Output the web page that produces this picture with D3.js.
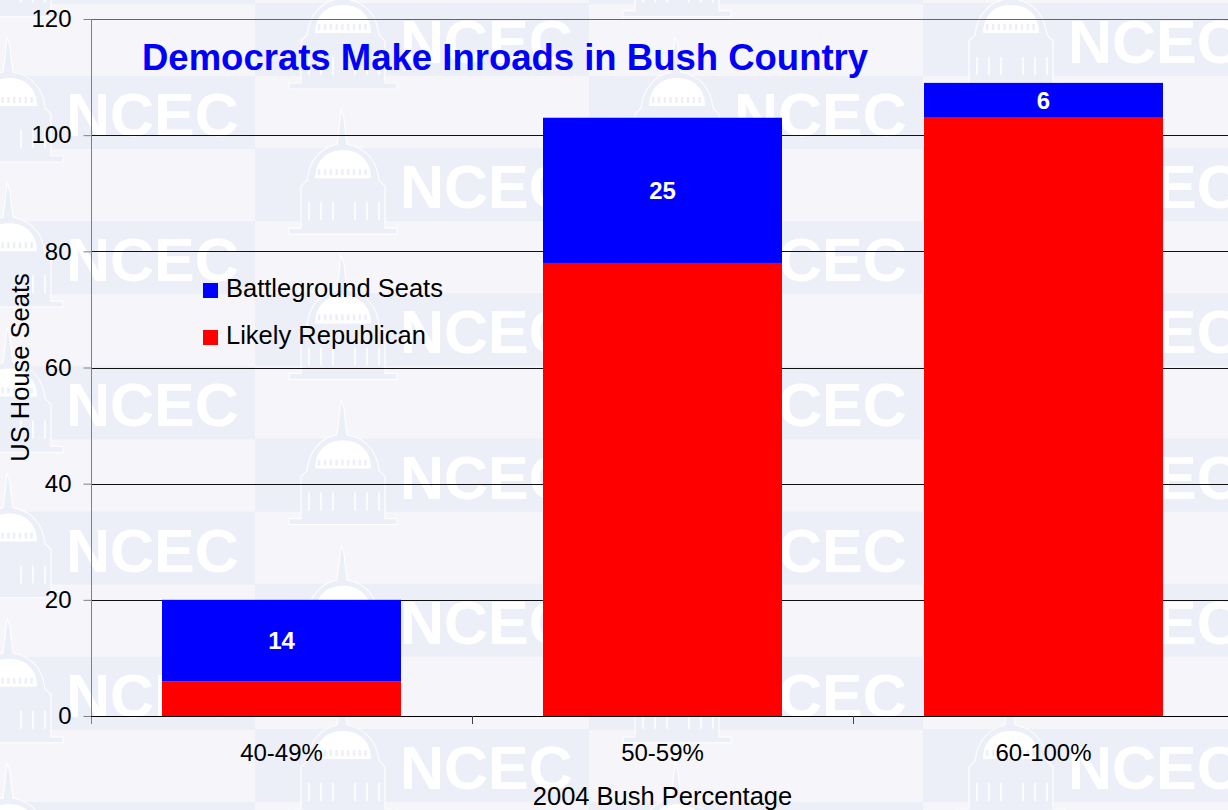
<!DOCTYPE html>
<html>
<head>
<meta charset="utf-8">
<script src="https://cdn.jsdelivr.net/npm/d3@7"></script>
<style>
  html, body { margin: 0; padding: 0; background: #f5f5fa; }
  svg { display: block; font-family: "Liberation Sans", Arial, sans-serif; }
</style>
</head>
<body>
<svg id="chart" width="1228" height="810"></svg>
<script>
// Data
const categories = ["40-49%", "50-59%", "60-100%"];
const likelyRepublican = [6, 78, 103];
const battleground = [14, 25, 6];
const yTicks = [0, 20, 40, 60, 80, 100, 120];
const seriesNames = ["Battleground Seats", "Likely Republican"];
const seriesColors = ["#0000ff", "#ff0000"];

const W = 1228, H = 810;
const margin = { left: 91, top: 19, right: 1234, bottom: 716 };

const svg = d3.select("#chart");

// Background and tiled NCEC watermark (checkerboard of tinted cells)
svg.append("rect").attr("width", W).attr("height", H).attr("fill", "#f5f5fa");

const bandFill = "#eceff7";
const cellW = 334, rowPeriod = 145.2, bandH = 73;
const cells = [];
d3.range(4).forEach(col => {
  const x0 = -79 + col * cellW;
  const top0 = (col % 2 === 0) ? 76 : 3;
  d3.range(-1, 7).forEach(k => cells.push({ x: x0, y: top0 + k * rowPeriod }));
});

const wm = svg.append("g").attr("class", "watermark");
wm.selectAll("rect.band").data(cells).join("rect")
  .attr("class", "band")
  .attr("x", d => d.x).attr("y", d => d.y)
  .attr("width", cellW).attr("height", bandH)
  .attr("fill", bandFill);

// faint capitol dome icon, drawn relative to each cell
function capitol(g) {
  const stroke = "#ffffff";
  // outer silhouette: spire, dome shoulders, body and base
  g.append("path")
    .attr("d", "M52,-39 L55,-30 L56,-20 L58,-4 C78,0 88,14 90,32 L96,38 L96,80 L108,80 L108,86 L0,86 L0,80 L12,80 L12,38 L18,32 C20,14 30,0 48,-4 L50,-20 L51,-30 Z")
    .attr("fill", bandFill).attr("stroke", stroke).attr("stroke-width", 1.2).attr("stroke-opacity", 0.9);
  // white inner dome
  g.append("path")
    .attr("d", "M26,30 C26,12 38,2 54,2 C70,2 82,12 82,30 Z")
    .attr("fill", stroke);
  // window row in the dome
  d3.range(9).forEach(i => {
    g.append("rect").attr("x", 29 + i * 5.8).attr("y", 21).attr("width", 2.4).attr("height", 6)
      .attr("fill", bandFill);
  });
  // columns of the body
  [20, 32, 44, 66, 78, 90].forEach(cx => {
    g.append("line").attr("x1", cx).attr("x2", cx).attr("y1", 54).attr("y2", 72)
      .attr("stroke", stroke).attr("stroke-width", 1.6);
  });
}

const tiles = wm.selectAll("g.tile").data(cells).join("g")
  .attr("class", "tile")
  .attr("transform", d => `translate(${d.x + 34},${d.y})`);
tiles.each(function () { capitol(d3.select(this)); });
tiles.append("text")
  .attr("x", 111).attr("y", 60)
  .attr("fill", "#ffffff")
  .attr("font-weight", "bold")
  .attr("font-size", 61)
  .text("NCEC");

// Scales
const x = d3.scaleBand()
  .domain(categories)
  .range([margin.left, margin.right])
  .paddingInner(0.3727)
  .paddingOuter(0.3727 / 2);

const y = d3.scaleLinear().domain([0, 120]).range([margin.bottom, margin.top]);

// Gridlines
svg.append("g").selectAll("line").data(yTicks.filter(t => t > 0)).join("line")
  .attr("x1", margin.left).attr("x2", W)
  .attr("y1", d => Math.round(y(d)) + 0.5).attr("y2", d => Math.round(y(d)) + 0.5)
  .attr("stroke", d => d === 120 ? "#666" : "#111").attr("stroke-width", 1);

// Stacked bars
const rows = categories.map((c, i) => ({ cat: c, rep: likelyRepublican[i], bg: battleground[i] }));
const stack = d3.stack().keys(["rep", "bg"])(rows);
const colorByKey = { rep: "#ff0000", bg: "#0000ff" };

svg.append("g").selectAll("g").data(stack).join("g")
  .attr("fill", d => colorByKey[d.key])
  .selectAll("rect").data(d => d).join("rect")
  .attr("x", d => x(d.data.cat))
  .attr("width", x.bandwidth())
  .attr("y", d => y(d[1]))
  .attr("height", d => y(d[0]) - y(d[1]));

// Value labels on battleground segments
const bgLayer = stack.find(s => s.key === "bg");
svg.append("g").selectAll("text").data(bgLayer).join("text")
  .attr("x", d => x(d.data.cat) + x.bandwidth() / 2)
  .attr("y", d => (y(d[0]) + y(d[1])) / 2)
  .attr("dy", "0.36em")
  .attr("text-anchor", "middle")
  .attr("fill", "#ffffff")
  .attr("font-weight", "bold")
  .attr("font-size", 24)
  .text(d => d.data.bg);

// Y axis
const yAxis = svg.append("g")
  .attr("transform", `translate(${margin.left + 0.5},0)`)
  .call(d3.axisLeft(y).tickValues(yTicks).tickSize(8).tickPadding(12));
yAxis.select(".domain").attr("stroke", "#808080").attr("d", `M0,${margin.top}V${margin.bottom + 8}`);
yAxis.selectAll(".tick line").attr("stroke", "#808080");
yAxis.selectAll(".tick text")
  .attr("font-size", 24).attr("fill", "#000")
  .attr("font-family", "'Liberation Sans', Arial, sans-serif");

// X axis baseline with boundary ticks
svg.append("line")
  .attr("x1", margin.left).attr("x2", W)
  .attr("y1", margin.bottom + 0.5).attr("y2", margin.bottom + 0.5)
  .attr("stroke", "#000");
const bounds = categories.slice(1).map(c => x(c) - x.step() * x.paddingInner() / 2);
svg.append("g").selectAll("line").data(bounds).join("line")
  .attr("x1", d => Math.round(d) + 0.5).attr("x2", d => Math.round(d) + 0.5)
  .attr("y1", margin.bottom).attr("y2", margin.bottom + 8)
  .attr("stroke", "#444");

// X tick labels
svg.append("g").selectAll("text").data(categories).join("text")
  .attr("x", d => x(d) + x.bandwidth() / 2)
  .attr("y", 761)
  .attr("text-anchor", "middle")
  .attr("font-size", 24)
  .attr("fill", "#000")
  .text(d => d);

// Axis titles
svg.append("text")
  .attr("x", (margin.left + margin.right) / 2).attr("y", 805)
  .attr("text-anchor", "middle").attr("font-size", 25.5).attr("fill", "#000")
  .text("2004 Bush Percentage");

svg.append("text")
  .attr("transform", `translate(29,${(margin.top + margin.bottom) / 2}) rotate(-90)`)
  .attr("text-anchor", "middle").attr("font-size", 25.5).attr("fill", "#000")
  .text("US House Seats");

// Legend
const legend = svg.append("g").selectAll("g").data(seriesNames).join("g")
  .attr("transform", (d, i) => `translate(203,${283 + i * 47})`);
legend.append("rect")
  .attr("width", 15).attr("height", 15)
  .attr("fill", (d, i) => seriesColors[i]);
legend.append("text")
  .attr("x", 23).attr("y", 14)
  .attr("font-size", 25.5).attr("fill", "#000")
  .text(d => d);

// Title
svg.append("text")
  .attr("x", 142).attr("y", 70)
  .attr("font-size", 36.5).attr("font-weight", "bold")
  .attr("fill", "#0000ff")
  .text("Democrats Make Inroads in Bush Country");
</script>
</body>
</html>
